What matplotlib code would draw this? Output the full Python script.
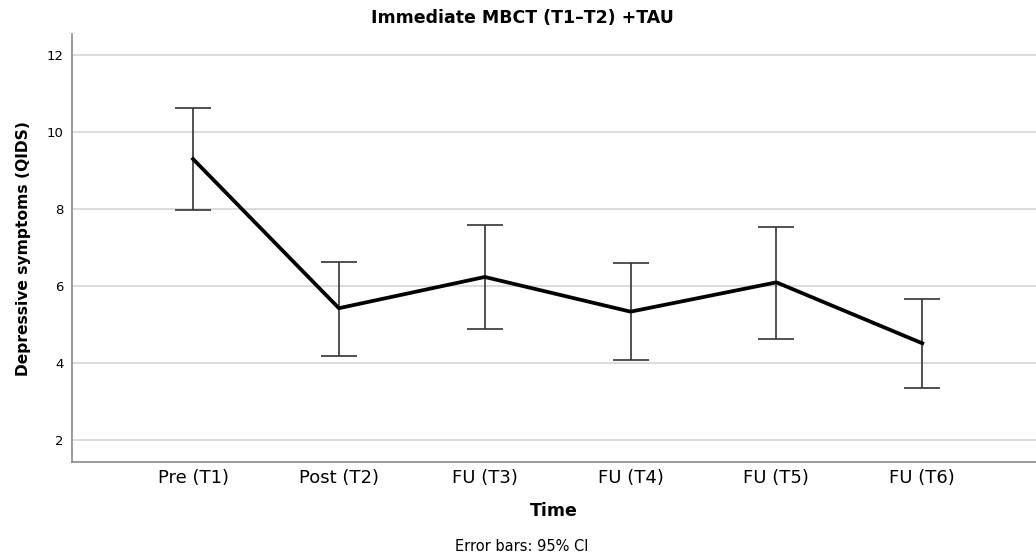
import matplotlib.pyplot as plt
import numpy as np

# данные с графика
time_labels = ["Pre (T1)", "Post (T2)", "FU (T3)", "FU (T4)", "FU (T5)", "FU (T6)"]
means = [9.29, 5.42, 6.23, 5.33, 6.09, 4.51]
ci_upper = [10.61, 6.63, 7.58, 6.60, 7.53, 5.66]
ci_lower = [7.97, 4.18, 4.88, 4.07, 4.63, 3.34]
y_ticks = [2, 4, 6, 8, 10, 12]

plt.rcParams['font.family'] = ['DejaVu Sans']

fig = plt.figure(figsize=(10.36, 5.59), dpi=100)
ax = fig.add_axes([0.0695, 0.1735, 0.9305, 0.7655])

x = np.arange(len(time_labels))
means = np.array(means)
yerr = np.array([means - np.array(ci_lower), np.array(ci_upper) - means])

# линии сетки
ax.set_yticks(y_ticks)
ax.yaxis.grid(True, color='#d2d2d2', linewidth=1.1)
ax.set_axisbelow(True)

ax.errorbar(x, means, yerr=yerr, fmt='none', ecolor='#333333',
            elinewidth=1.2, capsize=12.7, capthick=1.2, zorder=2)
ax.plot(x, means, color='black', linewidth=2.7, zorder=3)

ax.set_xlim(-0.83, 5.78)
ax.set_ylim(1.43, 12.53)
ax.set_xticks(x)
ax.set_xticklabels(time_labels, fontsize=13)
ax.tick_params(axis='y', labelsize=9.5, length=0, pad=6)
ax.tick_params(axis='x', length=0, pad=5)

for s in ['top', 'right']:
    ax.spines[s].set_visible(False)
for s in ['left', 'bottom']:
    ax.spines[s].set_color('#8a8a8a')
    ax.spines[s].set_linewidth(1.2)

ax.set_ylabel("Depressive symptoms (QIDS)", fontsize=11.2, fontweight='bold', labelpad=11)
ax.set_xlabel("Time", fontsize=12.5, fontweight='bold', labelpad=11)

fig.text(0.504, 0.967, "Immediate MBCT (T1\u2013T2) +TAU", ha='center', va='center',
         fontsize=12.5, fontweight='bold')
fig.text(0.504, 0.023, "Error bars: 95% CI", ha='center', va='center', fontsize=10.5)

fig.savefig("out.png", dpi=100)
